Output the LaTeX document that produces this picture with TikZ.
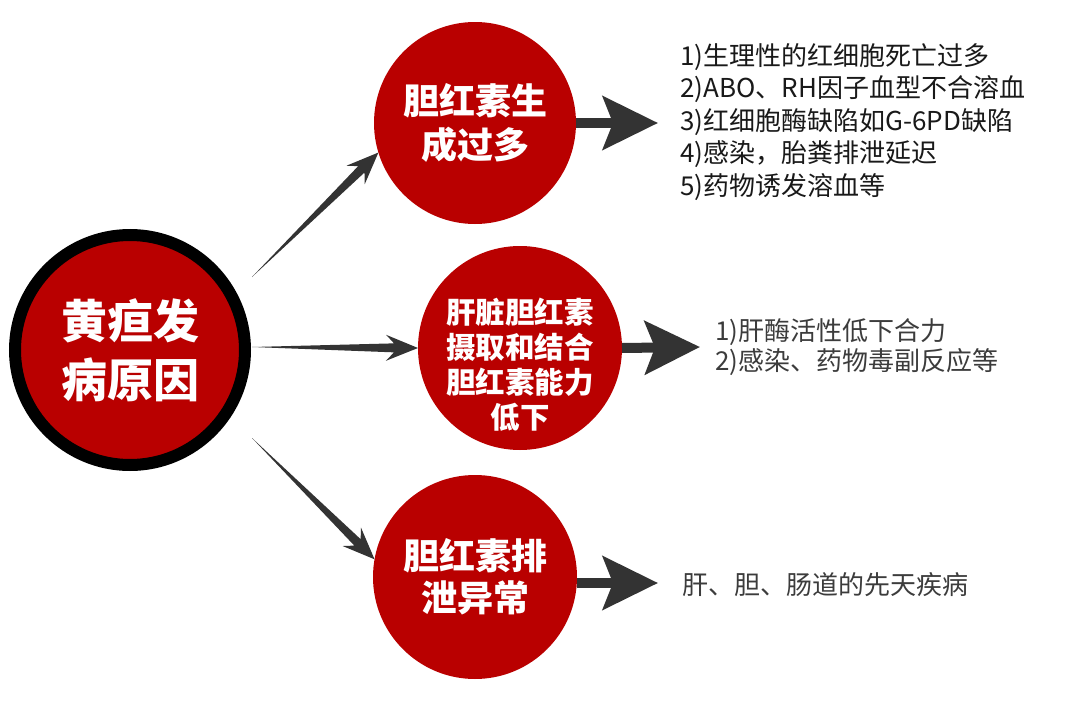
\documentclass[tikz,border=0pt]{standalone}
\usepackage{fontspec}
\newfontfamily\cjk{Noto Sans CJK SC}
\usetikzlibrary{arrows.meta,calc}
\definecolor{bubred}{RGB}{185,0,0}
\definecolor{arrowcol}{RGB}{51,51,51}
\definecolor{txtdark}{RGB}{25,25,25}
\definecolor{txtgray}{RGB}{60,60,60}
\newcommand\taperarrow[2]{%
  \fill[arrowcol] (#1)
    -- ($(#2)!24pt!(#1)!4.5pt!90:(#1)$)
    -- ($(#2)!32pt!(#1)!13pt!90:(#1)$)
    -- (#2)
    -- ($(#2)!32pt!(#1)!13pt!-90:(#1)$)
    -- ($(#2)!24pt!(#1)!4.5pt!-90:(#1)$)
    -- cycle;}
\begin{document}
\begin{tikzpicture}[x=1pt,y=-1pt,
  bubble/.style={circle, fill=bubred, inner sep=0pt, outer sep=0pt, text=white, align=center},
  mainbubble/.style={bubble, draw=black, line width=12pt, minimum size=230pt},
  bubbletext/.style={text=white, align=center, inner sep=0pt},
  bigarrow/.style={draw=arrowcol, line width=10pt, -{Stealth[length=55pt,width=53pt,inset=10pt]}},
  listtext/.style={anchor=west, inner sep=0pt, align=left}
]
\useasboundingbox (0,0) rectangle (1080,720);
\fill[white] (0,0) rectangle (1080,720);

% circles
\node[mainbubble, font=\cjk\bfseries\fontsize{46}{59}\selectfont] (main) at (130,350) {黄疸发\\病原因};
\node[bubble, minimum size=202pt, font=\cjk\bfseries\fontsize{36}{44}\selectfont] (c1) at (475,123) {胆红素生\\成过多};
\node[bubble, minimum size=204pt] (c2) at (520,348) {};
\node[bubbletext, font=\cjk\bfseries\fontsize{29.5}{35}\selectfont] (c2text) at ([yshift=-17pt]c2.center) {肝脏胆红素\\摄取和结合\\胆红素能力\\低下};
\node[bubble, minimum size=204pt, font=\cjk\bfseries\fontsize{36}{42}\selectfont] (c3) at (475,577) {胆红素排\\泄异常};

% tapered connectors from the main circle
\coordinate (t1) at ([shift={(122,-73)}]main.center);
\coordinate (t2) at ([shift={(122,-3)}]main.center);
\coordinate (t3) at ([shift={(122,88)}]main.center);
\taperarrow{t1}{c1.197}
\taperarrow{t2}{c2.180}
\taperarrow{t3}{c3.170}

% thick arrows to the lists
\coordinate (e1) at (658,123);
\coordinate (e2) at (700,347);
\coordinate (e3) at (658,583);
\draw[bigarrow] (c1.east) -- (e1);
\draw[bigarrow] (c2.east) -- (e2);
\draw[bigarrow] (c3.east |- e3) -- (e3);

% texts
\node[listtext, text=txtdark, font=\cjk\fontsize{26}{32.5}\selectfont] (l1) at (680,122)
  {1)生理性的红细胞死亡过多\\2)ABO、RH因子血型不合溶血\\3)红细胞酶缺陷如G-6PD缺陷\\4)感染，胎粪排泄延迟\\5)药物诱发溶血等};
\node[listtext, text=txtgray, font=\cjk\fontsize{26}{30}\selectfont] (l2) at (715,347)
  {1)肝酶活性低下合力\\2)感染、药物毒副反应等};
\node[listtext, text=txtgray, font=\cjk\fontsize{26}{30}\selectfont] (l3) at (682,585)
  {肝、胆、肠道的先天疾病};
\end{tikzpicture}
\end{document}
